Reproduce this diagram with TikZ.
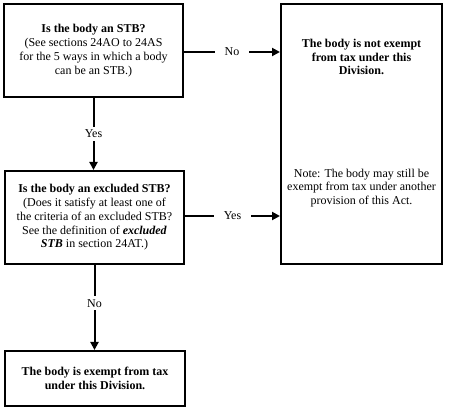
\documentclass[tikz,border=0pt]{standalone}
\usepackage{fontspec}
\setmainfont{Liberation Serif}
\usetikzlibrary{arrows.meta}
\tikzset{
  fcnode/.style = {align=center, inner sep=0pt, text centered,
    font=\fontsize{12}{13.8}\selectfont},
  fc_q/.style = {fcnode, rectangle, draw=black, line width=2pt,
    minimum width=179pt, minimum height=93pt},% boite question
  fc_r/.style = {fcnode, rectangle, draw=black, line width=2pt},% boite resultat
  fc_b/.style = {fcnode, font=\fontsize{12}{13.8}\selectfont\bfseries},% texte gras
  fc_l/.style = {fcnode, fill=white, inner xsep=10pt, inner ysep=3pt}% etiquette fleche
}

\begin{document}
\begin{tikzpicture}[x=1pt,y=-1pt,->,>={Triangle[length=8pt,width=8pt]},
  line width=2pt]
\useasboundingbox (0,0) rectangle (472,409);
\node [fc_q] (stb) at (93.5,50.5)
  {\textbf{Is the body an STB?}\\(See sections 24AO to 24AS\\
   for the 5 ways in which a body\\can be an STB.)};
\node [fc_q] (excl) at (94.5,217.5)
  {\textbf{Is the body an excluded STB?}\\(Does it satisfy at least one of\\
   the criteria of an excluded STB?\\See the definition of \textbf{\textit{excluded}}\\
   \textbf{\textit{STB}} in section 24AT.)};
\node [fc_r, minimum width=161pt, minimum height=260pt] (notexempt) at (361.5,134) {};
\node [fc_b] (notexempt_t) at (361.5,57)
  {The body is not exempt\\from tax under this\\Division.};
\node [fcnode] (notexempt_n) at (361.5,188)
  {Note: The body may still be\\exempt from tax under another\\provision of this Act.};
\node [fc_r, fc_b, minimum width=180pt, minimum height=55pt] (exempt) at (95,378.5)
  {The body is exempt from tax\\under this Division.};

\draw (stb.east |- 0,52) -- (notexempt.west |- 0,52) node [fc_l, midway] {No};
\draw (stb.south) -- (stb.south |- excl.north) node [fc_l, midway] {Yes};
\draw (excl.east |- 0,216) -- (notexempt.west |- 0,216) node [fc_l, midway] {Yes};
\draw (excl.south) -- (excl.south |- exempt.north) node [fc_l, pos=0.45] {No};
\end{tikzpicture}
\end{document}
